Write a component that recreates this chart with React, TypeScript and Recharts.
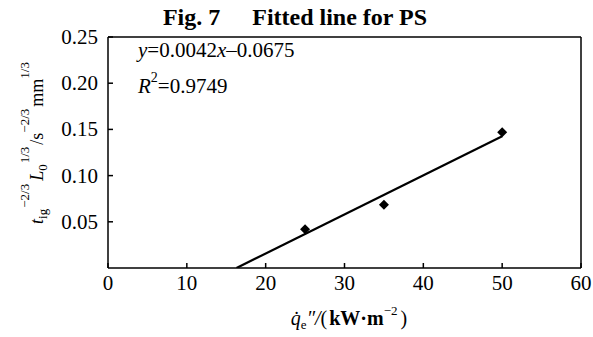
import React from "react";
import {
  ScatterChart,
  Scatter,
  XAxis,
  YAxis,
  ReferenceLine,
} from "recharts";

// measured ignition data for PS
const heatFlux = [25, 35, 50];
const ignValue = [0.042, 0.0685, 0.147];

// fitted line end points (y = 0.0042x - 0.0675)
const fitX = [16.3, 50];
const fitY = [0, 0.1425];

const xTicks = [0, 10, 20, 30, 40, 50, 60];
const yTicks = [0.05, 0.1, 0.15, 0.2, 0.25];

const points = heatFlux.map((x, i) => ({ x, y: ignValue[i] }));
const fitLine = fitX.map((x, i) => ({ x, y: fitY[i] }));

const FONT = "'Liberation Serif', 'Times New Roman', serif";
const W = 593;
const H = 337;

function XTick(props: any) {
  const { x, y, payload } = props;
  return (
    <g>
      <line x1={x} y1={y} x2={x} y2={y - 5} stroke="#000" strokeWidth={1.5} />
      <text x={x} y={y + 22} textAnchor="middle" fontSize={21} fontFamily={FONT} fill="#000">
        {payload.value}
      </text>
    </g>
  );
}

function YTick(props: any) {
  const { x, y, payload } = props;
  return (
    <g>
      <line x1={x} y1={y} x2={x + 5} y2={y} stroke="#000" strokeWidth={1.5} />
      <text x={x - 10} y={y + 7} textAnchor="end" fontSize={21} fontFamily={FONT} fill="#000">
        {payload.value.toFixed(2)}
      </text>
    </g>
  );
}

function Diamond(props: any) {
  const { cx, cy } = props;
  const r = 5;
  return <path d={`M${cx},${cy - r}L${cx + r},${cy}L${cx},${cy + r}L${cx - r},${cy}Z`} fill="#000" />;
}

export default function App() {
  return (
    <div style={{ position: "absolute", left: 0, top: 0, width: W, height: H, background: "#fff" }}>
      <ScatterChart width={W} height={H} margin={{ top: 37, right: 12, bottom: 0, left: 0 }}>
        <XAxis
          type="number"
          dataKey="x"
          domain={[0, 60]}
          ticks={xTicks}
          height={69}
          tickSize={0}
          tickMargin={0}
          tickLine={false}
          axisLine={{ stroke: "#000", strokeWidth: 1.5 }}
          tick={<XTick />}
          allowDataOverflow
        />
        <YAxis
          type="number"
          dataKey="y"
          domain={[0, 0.25]}
          ticks={yTicks}
          width={108}
          tickSize={0}
          tickMargin={0}
          tickLine={false}
          axisLine={{ stroke: "#000", strokeWidth: 1.5 }}
          tick={<YTick />}
          allowDataOverflow
        />
        <ReferenceLine y={0.25} stroke="#000" strokeWidth={1.5} />
        <ReferenceLine x={60} stroke="#000" strokeWidth={1.5} />
        <Scatter
          data={fitLine}
          line={{ stroke: "#000", strokeWidth: 2.2 }}
          shape={() => <g />}
          isAnimationActive={false}
        />
        <Scatter data={points} shape={<Diamond />} isAnimationActive={false} />
      </ScatterChart>

      <svg
        width={W}
        height={H}
        style={{ position: "absolute", left: 0, top: 0, pointerEvents: "none" }}
        fontFamily={FONT}
      >
        <text x={295} y={25} textAnchor="middle" fontSize={24} fontWeight="bold">
          Fig. 7<tspan dx={32}>Fitted line for PS</tspan>
        </text>

        <text x={138} y={57} fontSize={21}>
          <tspan fontStyle="italic">y</tspan>=0.0042<tspan fontStyle="italic">x</tspan>–0.0675
        </text>
        <text x={138} y={93} fontSize={21}>
          <tspan fontStyle="italic">R</tspan>
          <tspan fontSize={14} dy={-11}>2</tspan>
          <tspan dy={11}>=0.9749</tspan>
        </text>

        <text transform="rotate(-90)" x={-143} y={43} textAnchor="middle" fontSize={18}>
          <tspan fontStyle="italic">t</tspan>
          <tspan fontSize={13} dy={4}>ig</tspan>
          <tspan fontSize={13} dy={-18} dx={1}>−2/3</tspan>
          <tspan fontStyle="italic" dy={14} dx={3}>L</tspan>
          <tspan fontSize={13} dy={4}>0</tspan>
          <tspan fontSize={13} dy={-18} dx={1}>1/3</tspan>
          <tspan dy={14} dx={2}>/s</tspan>
          <tspan fontSize={13} dy={-14}>−2/3</tspan>
          <tspan dy={14} dx={2}>mm</tspan>
          <tspan fontSize={13} dy={-14}>1/3</tspan>
        </text>

        <text x={349} y={325} textAnchor="middle" fontSize={20}>
          <tspan fontStyle="italic">q̇</tspan>
          <tspan fontSize={13} dy={4}>e</tspan>
          <tspan fontStyle="italic" dy={-4}>″/</tspan>
          <tspan>(</tspan>
          <tspan fontWeight="bold" dx={2}>kW·m</tspan>
          <tspan fontSize={13} dy={-10}>−2</tspan>
          <tspan dy={10} dx={3}>)</tspan>
        </text>
      </svg>
    </div>
  );
}
